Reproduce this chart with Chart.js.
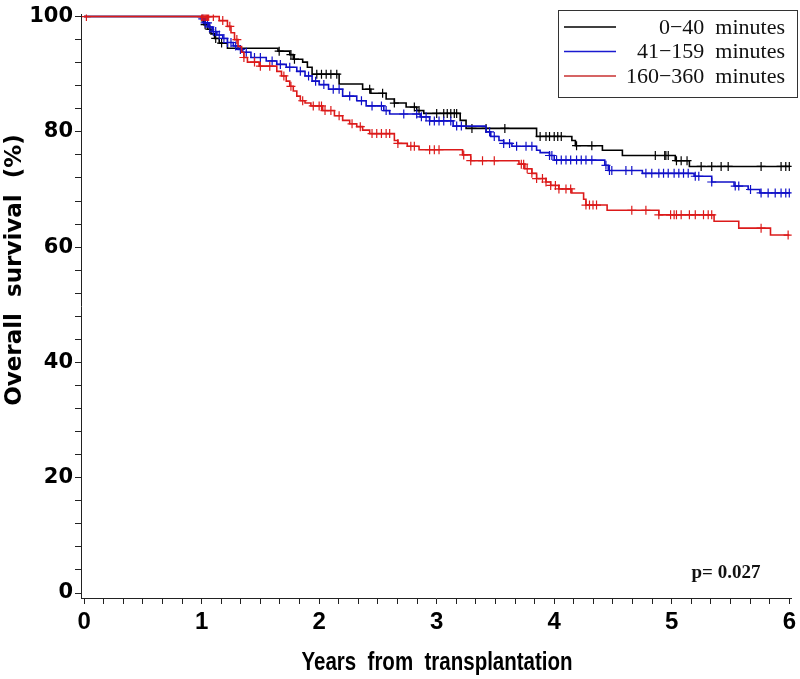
<!DOCTYPE html>
<html>
<head>
<meta charset="utf-8">
<script src="https://cdn.jsdelivr.net/npm/chart.js@4.4.1/dist/chart.umd.min.js"></script>
<style>
  html, body { margin: 0; padding: 0; background: #fff; }
  #wrap { width: 800px; height: 679px; }
</style>
</head>
<body>
<div id="wrap"><canvas id="kmChart" width="800" height="679"></canvas></div>
<script>
// groups (legend labels)
const groupLabels = ['0\u221240  minutes', '41\u2212159  minutes', '160\u2212360  minutes'];
const groupColors = ['#000000', '#1010c8', '#dc1a1a'];
const legendColors = ['#000000', '#1a1ad0', '#c83030'];
const yTitle = 'Overall  survival  (%)';
const xTitle = 'Years  from  transplantation';
const pText = 'p= 0.027';

// step times (years) and survival (%) after each drop
const shortTime = [1.00, 1.02, 1.05, 1.08, 1.11, 1.15, 1.22, 1.65, 1.75, 1.78, 1.86, 1.90, 1.94, 2.17, 2.37, 2.44, 2.57, 2.64, 2.74, 2.83, 2.89, 3.20, 3.25, 3.85, 4.15, 4.18, 4.41, 4.58, 5.03, 5.15];
const shortSurv = [99.3, 98.6, 97.8, 97.0, 96.2, 95.4, 94.5, 94.0, 93.4, 92.6, 92.1, 91.2, 90.0, 88.3, 87.4, 86.7, 85.7, 85.0, 84.3, 83.7, 83.2, 82.0, 80.6, 79.2, 78.5, 77.6, 76.8, 75.9, 75.0, 74.0];
const shortCens = [1.03, 1.07, 1.12, 1.17, 1.66, 1.76, 1.79, 1.98, 2.02, 2.06, 2.10, 2.15, 2.43, 2.54, 2.64, 2.81, 2.85, 3.00, 3.06, 3.09, 3.12, 3.15, 3.17, 3.30, 3.42, 3.58, 3.88, 3.93, 3.96, 4.00, 4.03, 4.06, 4.19, 4.32, 4.86, 4.94, 4.95, 4.97, 5.04, 5.08, 5.13, 5.25, 5.34, 5.42, 5.48, 5.76, 5.93, 5.97, 6.00];

const midTime = [1.00, 1.03, 1.06, 1.09, 1.13, 1.18, 1.22, 1.27, 1.31, 1.35, 1.42, 1.55, 1.64, 1.72, 1.81, 1.88, 1.94, 2.00, 2.08, 2.20, 2.32, 2.40, 2.55, 2.60, 2.86, 2.94, 3.14, 3.42, 3.46, 3.53, 3.57, 3.64, 3.85, 3.88, 3.96, 4.00, 4.43, 4.46, 4.75, 5.19, 5.34, 5.53, 5.65, 5.75];
const midSurv = [99.6, 98.9, 98.2, 97.4, 96.8, 96.2, 95.5, 94.9, 94.3, 93.8, 92.9, 92.3, 91.7, 91.2, 90.5, 89.7, 88.8, 88.2, 87.4, 86.2, 85.4, 84.5, 83.7, 83.1, 82.6, 81.9, 81.0, 80.0, 79.2, 78.5, 78.0, 77.5, 76.8, 76.4, 75.9, 75.1, 74.2, 73.3, 72.8, 72.3, 71.3, 70.6, 70.0, 69.4];
const midCens = [1.01, 1.03, 1.05, 1.07, 1.10, 1.12, 1.15, 1.19, 1.22, 1.25, 1.29, 1.33, 1.38, 1.45, 1.50, 1.60, 1.67, 1.75, 1.84, 1.91, 1.97, 2.04, 2.12, 2.17, 2.26, 2.36, 2.45, 2.53, 2.57, 2.72, 2.83, 2.87, 2.91, 2.94, 2.98, 3.02, 3.06, 3.12, 3.17, 3.21, 3.45, 3.49, 3.57, 3.62, 3.68, 3.76, 3.81, 3.96, 3.98, 4.02, 4.06, 4.10, 4.14, 4.19, 4.23, 4.27, 4.32, 4.44, 4.47, 4.49, 4.61, 4.66, 4.78, 4.83, 4.89, 4.93, 4.97, 5.02, 5.06, 5.10, 5.14, 5.20, 5.23, 5.34, 5.54, 5.57, 5.67, 5.76, 5.82, 5.88, 5.93, 5.97, 6.00];

const longTime = [1.15, 1.22, 1.25, 1.28, 1.31, 1.34, 1.36, 1.39, 1.49, 1.64, 1.68, 1.72, 1.75, 1.78, 1.81, 1.84, 1.88, 1.93, 2.03, 2.13, 2.20, 2.26, 2.32, 2.37, 2.43, 2.64, 2.67, 2.75, 2.85, 3.22, 3.29, 3.70, 3.75, 3.81, 3.85, 3.93, 3.97, 4.04, 4.15, 4.25, 4.27, 4.45, 4.89, 5.36, 5.57, 5.84];
const longSurv = [99.3, 98.3, 97.2, 96.0, 94.8, 93.8, 92.9, 92.1, 91.4, 90.5, 89.7, 88.8, 87.9, 87.1, 86.2, 85.4, 85.0, 84.5, 83.7, 82.8, 82.0, 81.4, 80.9, 80.3, 79.7, 78.5, 78.0, 77.5, 76.9, 76.0, 75.0, 74.4, 73.6, 72.8, 71.9, 71.3, 70.7, 70.1, 69.4, 68.3, 67.3, 66.4, 65.6, 64.5, 63.3, 62.1];
const longCens = [0.02, 1.00, 1.01, 1.02, 1.03, 1.04, 1.05, 1.06, 1.10, 1.18, 1.24, 1.30, 1.36, 1.45, 1.50, 1.58, 1.70, 1.76, 1.86, 1.95, 2.00, 2.02, 2.05, 2.10, 2.17, 2.28, 2.35, 2.45, 2.49, 2.53, 2.57, 2.60, 2.67, 2.78, 2.81, 2.94, 2.98, 3.02, 3.23, 3.29, 3.39, 3.49, 3.72, 3.74, 3.77, 3.81, 3.85, 3.90, 3.93, 3.97, 4.01, 4.04, 4.10, 4.14, 4.27, 4.30, 4.33, 4.36, 4.66, 4.78, 4.89, 4.99, 5.02, 5.04, 5.08, 5.15, 5.20, 5.27, 5.31, 5.34, 5.76, 5.99];

// axis ticks
const xMajor = [0, 1, 2, 3, 4, 5, 6];
const yMajor = [0, 20, 40, 60, 80, 100];

function stepPoints(times, surv) {
  const pts = [{x: 0, y: 100}];
  times.forEach((t, i) => pts.push({x: t, y: surv[i]}));
  pts.push({x: 6, y: surv[surv.length - 1]});
  return pts;
}
function survAt(times, surv, t) {
  let s = 100;
  for (let i = 0; i < times.length; i++) { if (times[i] <= t) s = surv[i]; }
  return s;
}
function censPoints(times, surv, cens) {
  return cens.map(t => ({x: t, y: survAt(times, surv, t)}));
}

const groups = [[shortTime, shortSurv, shortCens], [midTime, midSurv, midCens], [longTime, longSurv, longCens]];
const datasets = [];
groups.forEach((g, i) => {
  datasets.push({
    type: 'line', label: groupLabels[i], data: stepPoints(g[0], g[1]),
    stepped: true, borderColor: groupColors[i], borderWidth: 1.6,
    pointRadius: 0, fill: false, order: 3 - i
  });
});
groups.forEach((g, i) => {
  datasets.push({
    type: 'scatter', label: 'cens' + i, data: censPoints(g[0], g[1], g[2]),
    pointStyle: 'cross', pointRadius: 4.5, borderWidth: 1.2,
    borderColor: groupColors[i], backgroundColor: groupColors[i], order: 3 - i
  });
});

// legend box, axis titles, p value
const annotate = {
  id: 'annotate',
  afterDraw(chart) {
    const c = chart.ctx;
    c.save();
    c.strokeStyle = '#333';
    c.lineWidth = 1;
    c.strokeRect(558.5, 10.5, 239, 87);
    c.font = '22px "Liberation Serif", "DejaVu Serif", serif';
    c.textAlign = 'right';
    c.textBaseline = 'middle';
    groupLabels.forEach((lab, i) => {
      const y = 27 + i * 24.5;
      c.strokeStyle = legendColors[i];
      c.lineWidth = 1.5;
      c.beginPath(); c.moveTo(564, y); c.lineTo(616, y); c.stroke();
      c.fillStyle = '#111';
      c.fillText(lab, 785, y + 1);
    });
    c.font = 'bold 19px "Liberation Serif", "DejaVu Serif", serif';
    c.textAlign = 'center';
    c.fillText(pText, 726, 573);

    // x axis title, condensed
    c.save();
    c.translate(437, 663);
    c.scale(0.82, 1);
    c.font = 'bold 25px "Liberation Sans", sans-serif';
    c.fillStyle = '#000';
    c.fillText(xTitle, 0, 0);
    c.restore();

    // y axis title
    c.translate(15, 270);
    c.rotate(-Math.PI / 2);
    c.font = 'bold 23px "DejaVu Sans", sans-serif';
    c.fillStyle = '#000';
    c.fillText(yTitle, 0, 0);
    c.restore();
  }
};

const ctx = document.getElementById('kmChart');
new Chart(ctx, {
  type: 'line',
  data: { datasets: datasets },
  options: {
    responsive: false,
    animation: false,
    events: [],
    layout: { padding: { top: 10, right: 7, left: 0, bottom: 0 } },
    plugins: { legend: { display: false }, tooltip: { enabled: false } },
    scales: {
      x: {
        type: 'linear', min: -0.026, max: 6.02,
        afterBuildTicks(scale) {
          const t = [];
          for (let i = 0; i <= 36; i++) t.push({value: i / 6});
          scale.ticks = t;
        },
        afterFit(scale) { scale.height = 81; },
        grid: { drawOnChartArea: false, drawTicks: true, tickLength: 6, color: '#222' },
        border: { display: true, color: '#222', width: 1 },
        ticks: {
          autoSkip: false, maxRotation: 0, padding: 4, color: '#000',
          font: { family: '"Liberation Sans Narrow", "Arial Narrow", "Liberation Sans", sans-serif', weight: 'bold', size: 24 },
          callback: function (v) {
            const r = Math.round(v);
            return (Math.abs(v - r) < 1e-6 && xMajor.includes(r)) ? String(r) : '';
          }
        },
        title: { display: false }
      },
      y: {
        type: 'linear', min: -0.86, max: 100.34,
        afterBuildTicks(scale) {
          const t = [];
          for (let v = 0; v <= 100; v += 4) t.push({value: v});
          scale.ticks = t;
        },
        afterFit(scale) { scale.width = 81; },
        grid: { drawOnChartArea: false, drawTicks: true, tickLength: 6, color: '#222' },
        border: { display: true, color: '#222', width: 1 },
        ticks: {
          autoSkip: false, padding: 2, color: '#000',
          font: { family: '"DejaVu Sans", sans-serif', weight: 'bold', size: 21 },
          callback: function (v) { return yMajor.includes(v) ? String(v) : ''; }
        },
        title: { display: false }
      }
    }
  },
  plugins: [annotate]
});
</script>
</body>
</html>
